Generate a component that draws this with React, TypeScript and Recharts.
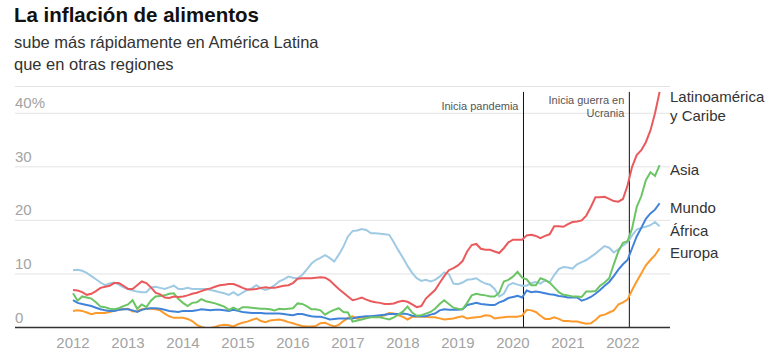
import React from 'react';
import { LineChart, Line, XAxis, YAxis, CartesianGrid, ReferenceLine } from 'recharts';

// Monthly food inflation (%), Jan 2012 (index 0) to Sep 2022 (index 128)
const latam = [
  7.0, 6.9, 6.6, 6.1, 6.3, 6.8, 7.4, 7.6, 7.8, 8.3, 8.3, 7.8,
  7.2, 7.2, 7.9, 8.6, 8.3, 7.5, 6.5, 6.2, 5.6, 5.5, 5.8, 5.7,
  5.8, 6.0, 6.3, 6.5, 6.8, 7.1, 7.3, 7.6, 7.9, 8.0, 8.1, 8.1,
  7.8, 7.4, 7.1, 7.1, 7.2, 7.4, 7.5, 7.4, 7.4, 7.6, 7.8, 7.9,
  8.3, 9.1, 9.2, 9.2, 9.2, 9.3, 9.4, 9.3, 8.8, 8.0, 7.2, 6.5,
  5.8, 5.1, 5.3, 5.6, 5.2, 4.9, 4.7, 4.6, 4.4, 4.4, 4.5, 4.8,
  5.0, 4.8, 4.3, 3.8, 4.0, 5.4, 6.2, 7.0, 8.3, 9.6, 10.7, 11.1,
  11.6, 12.4, 14.2, 15.4, 15.6, 14.7, 14.5, 14.5, 14.2, 13.9, 14.8, 15.9,
  16.4, 16.4, 16.4, 17.2, 17.3, 17.1, 16.7, 17.1, 17.4, 18.9, 18.9, 18.8,
  19.3, 19.7, 19.8, 20.0, 20.9, 22.5, 24.3, 24.3, 24.4, 24.0, 23.6, 23.5,
  24.0, 26.5, 30.0, 32.2, 33.1, 34.6, 36.8, 40.0, 44.0,
];
const asia = [
  6.4, 5.0, 5.8, 5.6, 5.4, 4.7, 3.9, 3.8, 3.5, 3.4, 3.6, 4.0,
  4.3, 5.1, 3.5, 4.3, 3.8, 5.0, 5.8, 5.9, 6.0, 6.3, 6.4, 5.3,
  4.6, 4.0, 4.6, 4.7, 5.3, 4.9, 4.7, 4.5, 4.2, 3.9, 3.3, 3.7,
  3.3, 3.8, 3.8, 3.7, 3.6, 3.5, 3.5, 3.4, 3.2, 3.5, 3.4, 3.5,
  3.6, 4.5, 4.4, 4.0, 3.4, 3.4, 3.2, 2.4, 2.9, 3.3, 3.6, 2.9,
  2.8, 1.1, 1.3, 1.5, 1.7, 1.9, 1.9, 1.9, 1.7, 1.5, 1.9, 2.4,
  3.0, 3.9, 2.8, 2.2, 2.3, 2.6, 2.9, 3.5, 4.4, 5.1, 4.4, 3.7,
  3.5, 3.4, 4.6, 6.0, 6.3, 6.1, 6.0, 5.8, 5.8, 6.5, 8.6, 8.9,
  9.5, 10.4, 9.3, 9.0, 7.9, 7.9, 9.2, 8.9, 8.4, 7.5, 6.6, 6.1,
  6.0, 5.8, 5.8, 5.7, 6.7, 6.7, 6.8, 7.8, 8.4, 9.2, 11.8, 14.2,
  15.8, 16.1, 18.5, 22.5, 24.5, 27.5, 29.0, 28.3, 30.3,
];
const mundo = [
  5.1, 4.6, 4.4, 4.2, 4.0, 3.7, 3.4, 3.2, 3.1, 3.1, 3.3, 3.4,
  3.4, 3.2, 2.9, 3.3, 3.5, 3.6, 3.6, 3.5, 3.3, 3.1, 3.0, 2.9,
  3.1, 3.1, 3.1, 3.2, 3.4, 3.3, 3.2, 3.3, 3.3, 3.2, 3.1, 3.3,
  3.1, 2.9, 2.8, 2.7, 2.7, 2.7, 2.6, 2.6, 2.6, 2.6, 2.5, 2.4,
  2.3, 2.5, 2.5, 2.3, 2.1, 2.0, 2.0, 1.8, 1.5, 1.6, 1.7, 1.7,
  1.7, 1.7, 1.9, 2.0, 2.1, 2.1, 2.2, 2.3, 2.4, 2.5, 2.5, 2.5,
  2.6, 2.5, 2.2, 2.1, 2.1, 2.1, 2.4, 2.6, 3.2, 3.4, 3.3, 3.3,
  3.3, 3.4, 4.2, 4.4, 4.6, 4.4, 4.3, 4.2, 4.2, 4.7, 5.0, 5.5,
  5.7, 5.9, 5.6, 6.9, 6.6, 6.7, 6.6, 6.4, 6.2, 6.1, 5.9, 5.8,
  5.6, 5.6, 5.6, 5.0, 5.3, 5.7, 6.3, 7.0, 7.8, 8.5, 9.6, 10.8,
  11.8, 12.6, 14.8, 17.0, 18.6, 20.3, 21.3, 22.0, 23.2,
];
const africa = [
  10.7, 10.8, 10.6, 10.2, 9.6, 9.0, 8.4, 7.9, 8.2, 8.4, 8.0, 7.5,
  7.2, 6.9, 6.7, 6.6, 6.6, 7.5, 7.6, 7.4, 7.2, 7.5, 7.8, 7.2,
  7.2, 7.4, 7.2, 7.2, 7.2, 7.2, 7.0, 6.8, 6.6, 6.4, 6.1, 6.6,
  6.0, 6.5, 7.0, 7.3, 7.9, 7.3, 7.0, 7.3, 7.9, 8.6, 9.0, 9.5,
  9.3, 9.2, 9.8, 10.8, 11.9, 12.6, 13.0, 13.5, 13.0, 12.3, 13.6, 15.1,
  17.0, 18.0, 18.1, 18.4, 18.2, 17.6, 17.6, 17.5, 17.4, 17.3, 15.9, 14.4,
  13.0, 11.5, 10.2, 9.2, 8.7, 8.9, 8.6, 8.9, 9.5, 10.3, 10.0, 8.2,
  8.1, 8.4, 8.9, 9.0, 9.2, 8.6, 8.2, 8.0, 7.2, 5.8, 6.3, 7.9,
  8.3, 8.0, 7.8, 7.8, 8.3, 8.5, 8.2, 8.8, 8.4, 9.8, 10.9, 11.3,
  11.2, 11.0, 11.8, 12.2, 12.6, 13.2, 13.8, 14.5, 15.2, 14.9, 14.0, 14.6,
  15.3, 15.9, 17.2, 18.3, 18.6, 18.8, 19.1, 19.7, 18.9,
];
const europa = [
  3.1, 3.2, 3.1, 2.8, 2.5, 2.7, 2.7, 2.7, 2.9, 3.1, 3.3, 3.4,
  3.5, 3.0, 3.1, 3.4, 3.5, 3.5, 3.4, 3.2, 2.6, 2.1, 1.8, 1.8,
  1.8, 1.6, 1.2, 0.5, 0.1, -0.1, -0.1, 0.1, 0.4, 0.5, 0.4, 0.2,
  0.6, 0.9, 1.1, 1.4, 1.7, 1.2, 1.0, 1.3, 1.4, 1.5, 1.3, 1.0,
  0.8, 0.5, 0.3, 0.2, 0.2, 0.3, 0.8, 0.9, 0.5, 0.2, 0.5, 1.2,
  1.8, 2.1, 1.7, 1.9, 1.9, 2.0, 2.0, 2.1, 2.3, 2.7, 2.6, 2.3,
  2.0, 1.5, 2.0, 2.0, 2.0, 2.0, 1.9, 1.9, 1.7, 1.5, 1.6, 1.7,
  1.9, 2.1, 1.7, 1.8, 1.9, 2.0, 2.3, 2.2, 1.7, 1.8, 1.9, 2.0,
  2.0, 2.0, 2.2, 3.3, 3.2, 2.9, 2.2, 1.6, 1.6, 1.9, 1.6, 1.2,
  1.2, 1.1, 1.1, 0.9, 0.7, 0.8, 1.4, 2.2, 2.4, 2.8, 3.2, 4.3,
  4.7, 5.2, 7.0, 8.6, 10.1, 11.6, 12.6, 13.5, 14.8,
];

const firstYear = 2012;
const yearTicks = [0, 12, 24, 36, 48, 60, 72, 84, 96, 108, 120];
const valueTicks = [0, 10, 20, 30, 40];
const events = [
  { m: 98.3, lines: ['Inicia pandemia'], dy: 18 },
  { m: 121.4, lines: ['Inicia guerra en', 'Ucrania'], dy: 12 },
];
const seriesLabels = [
  { lines: ['Latinoamérica', 'y Caribe'], top: 88 },
  { lines: ['Asia'], top: 161 },
  { lines: ['Mundo'], top: 199 },
  { lines: ['África'], top: 222 },
  { lines: ['Europa'], top: 244 },
];

const data = latam.map((v, i) => ({
  m: i,
  latam: v,
  asia: asia[i],
  mundo: mundo[i],
  africa: africa[i],
  europa: europa[i],
}));

const FONT = '"Liberation Sans", Arial, sans-serif';
const AXIS_GRAY = '#a3a3a3';

const YTick = (props: any) => {
  const { y, payload } = props;
  const label = payload.value === 40 ? '40%' : String(payload.value);
  return (
    <text x={15} y={y - 5} fill={AXIS_GRAY} fontSize={15} fontFamily={FONT} textAnchor="start">
      {label}
    </text>
  );
};

const XTick = (props: any) => {
  const { x, y, payload } = props;
  return (
    <text x={x} y={y + 20.5} fill={AXIS_GRAY} fontSize={15} fontFamily={FONT} textAnchor="middle">
      {firstYear + payload.value / 12}
    </text>
  );
};

const eventLabel = (lines: string[], dy0: number) => (props: any) => {
  const vb = props.viewBox || {};
  const x = vb.x ?? 0;
  const y = vb.y ?? 0;
  return (
    <text x={x - 5} y={y + dy0} fill="#555" fontSize={11} fontFamily={FONT} textAnchor="end">
      {lines.map((l, i) => (
        <tspan key={i} x={x - 5} dy={i === 0 ? 0 : 13}>
          {l}
        </tspan>
      ))}
    </text>
  );
};

export default function App() {
  return (
    <div style={{ position: 'absolute', left: 0, top: 0, width: 778, height: 364, background: '#fff', fontFamily: FONT }}>
      <div style={{ position: 'absolute', left: 14, top: 3, fontSize: 20.5, fontWeight: 700, color: '#111', whiteSpace: 'nowrap' }}>
        La inflación de alimentos
      </div>
      <div style={{ position: 'absolute', left: 14, top: 32, fontSize: 16.5, lineHeight: '21.5px', color: '#333', whiteSpace: 'nowrap' }}>
        sube más rápidamente en América Latina
        <br />
        que en otras regiones
      </div>
      <div style={{ position: 'absolute', left: 0, top: 0 }}>
        <LineChart width={778} height={364} data={data} margin={{ top: 86.5, right: 108, bottom: 0, left: 15 }}>
          <CartesianGrid horizontal={true} vertical={false} stroke="#e3e3e3" strokeWidth={1} />
          <XAxis
            dataKey="m"
            type="number"
            domain={[-12.66, 130.27]}
            ticks={yearTicks}
            allowDataOverflow
            height={36.5}
            axisLine={{ stroke: '#333', strokeWidth: 1.5 }}
            tickLine={false}
            tickSize={0}
            tickMargin={0}
            tick={<XTick />}
            interval={0}
          />
          <YAxis
            type="number"
            domain={[0, 45]}
            ticks={valueTicks}
            allowDataOverflow
            mirror
            width={40}
            axisLine={false}
            tickLine={false}
            tick={<YTick />}
            interval={0}
          />
          {events.map((e, i) => (
            <ReferenceLine
              key={i}
              segment={[{ x: e.m, y: 0 }, { x: e.m, y: 44 }]}
              stroke="#111"
              strokeWidth={1}
              label={eventLabel(e.lines, e.dy)}
              ifOverflow="extendDomain"
            />
          ))}
          <Line type="linear" dataKey="africa" stroke="#9fcae3" strokeWidth={2} dot={false} isAnimationActive={false} />
          <Line type="linear" dataKey="europa" stroke="#fd9a2c" strokeWidth={2} dot={false} isAnimationActive={false} />
          <Line type="linear" dataKey="mundo" stroke="#4083d9" strokeWidth={2} dot={false} isAnimationActive={false} />
          <Line type="linear" dataKey="asia" stroke="#6cc565" strokeWidth={2} dot={false} isAnimationActive={false} />
          <Line type="linear" dataKey="latam" stroke="#ea5a5c" strokeWidth={2} dot={false} isAnimationActive={false} />
        </LineChart>
      </div>
      {seriesLabels.map((s, i) => (
        <div
          key={i}
          style={{ position: 'absolute', left: 670, top: s.top, fontSize: 15, lineHeight: '18.5px', color: '#333', whiteSpace: 'nowrap' }}
        >
          {s.lines.map((l, j) => (
            <div key={j}>{l}</div>
          ))}
        </div>
      ))}
    </div>
  );
}
